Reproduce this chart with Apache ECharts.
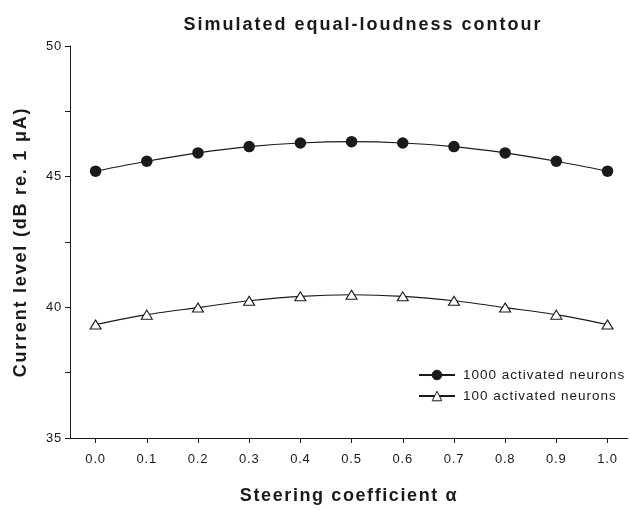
<!DOCTYPE html>
<html>
<head>
<meta charset="utf-8">
<script src="https://cdn.jsdelivr.net/npm/echarts@6/dist/echarts.min.js"></script>
<style>
  html, body { margin: 0; padding: 0; background: #fff; }
  #chart { width: 630px; height: 510px; }
</style>
</head>
<body>
<div id="chart"></div>
<script>
// Steering coefficient values (x) and simulated current levels (dB re. 1 uA)
const alpha = [0.0, 0.1, 0.2, 0.3, 0.4, 0.5, 0.6, 0.7, 0.8, 0.9, 1.0];
const level1000 = [45.21, 45.59, 45.91, 46.15, 46.29, 46.34, 46.29, 46.15, 45.91, 45.59, 45.21];
const level100 = [39.34, 39.72, 39.99, 40.25, 40.42, 40.48, 40.42, 40.25, 39.99, 39.72, 39.34];
const xTicks = [0.0, 0.1, 0.2, 0.3, 0.4, 0.5, 0.6, 0.7, 0.8, 0.9, 1.0];
const seriesNames = ['1000 activated neurons', '100 activated neurons'];
const titleText = 'Simulated equal-loudness contour';
const xName = 'Steering coefficient \u03b1';
const yName = 'Current level (dB re. 1 \u03bcA)';

const FONT = '"Liberation Sans", Arial, sans-serif';
const INK = '#1a1a1a';

// Wide-set lettering: extra tracking (px) per text, applied when the canvas draws it
const tracking = {};
tracking[titleText] = 2;
tracking[xName] = 1.6;
tracking[yName] = 1.8;
seriesNames.forEach(n => { tracking[n] = 1; });
const proto = CanvasRenderingContext2D.prototype;
const baseFillText = proto.fillText;
proto.fillText = function (text, x, y, maxWidth) {
  const prev = this.letterSpacing;
  const s = tracking[text];
  this.letterSpacing = (s !== undefined ? s : 0.8) + 'px';
  const r = maxWidth === undefined ? baseFillText.call(this, text, x, y) : baseFillText.call(this, text, x, y, maxWidth);
  this.letterSpacing = prev;
  return r;
};

const pairs = (xs, ys) => xs.map((x, i) => [x, ys[i]]);

const chart = echarts.init(document.getElementById('chart'), null, { renderer: 'canvas' });
chart.setOption({
  animation: false,
  backgroundColor: '#ffffff',
  title: {
    text: titleText,
    left: 358,
    top: 11,
    textAlign: 'center',
    textStyle: { fontFamily: FONT, fontWeight: 'bold', fontSize: 18, color: INK }
  },
  grid: { left: 70, right: 2, top: 46, bottom: 59, containLabel: false },
  legend: {
    orient: 'vertical',
    left: 418,
    top: 368,
    padding: 0,
    itemWidth: 36,
    itemHeight: 12,
    itemGap: 7,
    data: seriesNames,
    itemStyle: { borderWidth: 1 },
    textStyle: { fontFamily: FONT, fontSize: 13.5, color: INK, padding: [0, 0, 0, 3] }
  },
  xAxis: {
    type: 'value',
    min: -0.05,
    max: 1.04,
    name: xName,
    nameLocation: 'middle',
    nameGap: 49,
    nameTextStyle: { fontFamily: FONT, fontWeight: 'bold', fontSize: 18, color: INK },
    axisLine: { show: true, onZero: false, lineStyle: { color: INK, width: 1 } },
    axisTick: { show: true, inside: false, length: 5, lineStyle: { color: INK }, customValues: xTicks },
    axisLabel: {
      fontFamily: FONT, fontSize: 13, color: INK, margin: 15,
      customValues: xTicks,
      formatter: v => v.toFixed(1)
    },
    splitLine: { show: false }
  },
  yAxis: {
    type: 'value',
    min: 35,
    max: 50,
    interval: 5,
    name: yName,
    nameLocation: 'middle',
    nameGap: 40,
    nameRotate: 90,
    nameTextStyle: { fontFamily: FONT, fontWeight: 'bold', fontSize: 18, color: INK },
    axisLine: { show: true, onZero: false, lineStyle: { color: INK, width: 1 } },
    axisTick: { show: true, inside: false, length: 5, lineStyle: { color: INK } },
    minorTick: { show: true, splitNumber: 2, length: 5, lineStyle: { color: INK } },
    axisLabel: { fontFamily: FONT, fontSize: 13, color: INK, margin: 8 },
    splitLine: { show: false }
  },
  series: [
    {
      name: seriesNames[0],
      type: 'line',
      data: pairs(alpha, level1000),
      smooth: 0.3,
      symbol: 'circle',
      symbolSize: 11.5,
      showAllSymbol: true,
      lineStyle: { color: INK, width: 1.1 },
      itemStyle: { color: INK, borderColor: INK, borderWidth: 0 }
    },
    {
      name: seriesNames[1],
      type: 'line',
      data: pairs(alpha, level100),
      smooth: 0.3,
      symbol: 'triangle',
      symbolSize: [11, 9],
      showAllSymbol: true,
      lineStyle: { color: INK, width: 1.1 },
      itemStyle: { color: '#ffffff', borderColor: INK, borderWidth: 1.1 }
    }
  ]
});
</script>
</body>
</html>
